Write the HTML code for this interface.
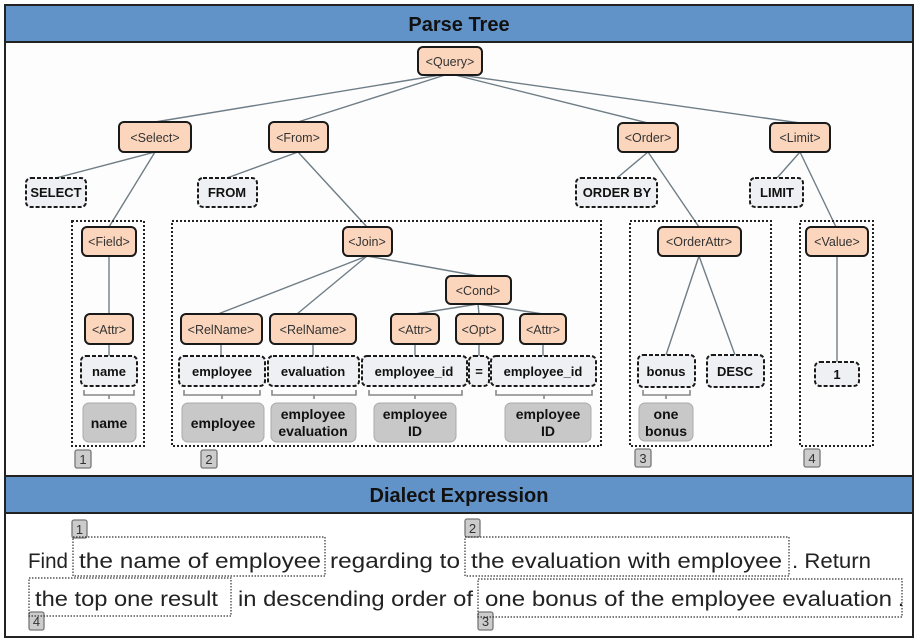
<!DOCTYPE html>
<html><head><meta charset="utf-8"><style>
html,body{margin:0;padding:0;background:#fff;}
svg{display:block;}
</style></head><body>
<svg width="918" height="643" viewBox="0 0 918 643" xmlns="http://www.w3.org/2000/svg" font-family="Liberation Sans, DejaVu Sans, sans-serif">
<rect x="0" y="0" width="918" height="643" fill="#fff"/>
<!-- headers -->
<rect x="5" y="5" width="908" height="37" fill="#6193c8" stroke="#222" stroke-width="2"/>
<text x="459" y="31" text-anchor="middle" font-size="20" font-weight="bold" fill="#111">Parse Tree</text>
<rect x="5" y="42" width="908" height="434" fill="#fdfdfd" stroke="#222" stroke-width="2"/>
<rect x="5" y="476" width="908" height="37" fill="#6193c8" stroke="#222" stroke-width="2"/>
<text x="459" y="502" text-anchor="middle" font-size="20" font-weight="bold" fill="#111">Dialect Expression</text>
<rect x="5" y="513" width="908" height="124" fill="#fff" stroke="#222" stroke-width="2"/>

<!-- edges -->
<g stroke="#6f7d86" stroke-width="1.4" fill="none">
<line x1="440" y1="75" x2="155" y2="122"/>
<line x1="445" y1="75" x2="298" y2="122"/>
<line x1="455" y1="75" x2="648" y2="123"/>
<line x1="460" y1="75" x2="800" y2="123"/>
<line x1="155" y1="152" x2="56" y2="178"/>
<line x1="155" y1="152" x2="109" y2="227"/>
<line x1="298" y1="152" x2="227" y2="178"/>
<line x1="298" y1="152" x2="367" y2="227"/>
<line x1="648" y1="152" x2="617" y2="178"/>
<line x1="648" y1="152" x2="699" y2="227"/>
<line x1="800" y1="152" x2="777" y2="178"/>
<line x1="800" y1="152" x2="836" y2="227"/>
<line x1="109" y1="256" x2="109" y2="314"/>
<line x1="109" y1="344" x2="109" y2="356"/>
<line x1="367" y1="256" x2="218" y2="314"/>
<line x1="367" y1="256" x2="297" y2="314"/>
<line x1="367" y1="256" x2="478" y2="276"/>
<line x1="478" y1="304" x2="415" y2="314"/>
<line x1="478" y1="304" x2="479" y2="314"/>
<line x1="478" y1="304" x2="543" y2="314"/>
<line x1="221" y1="344" x2="221" y2="356"/>
<line x1="313" y1="344" x2="313" y2="356"/>
<line x1="415" y1="344" x2="415" y2="356"/>
<line x1="479" y1="344" x2="479" y2="356"/>
<line x1="543" y1="344" x2="543" y2="356"/>
<line x1="699" y1="256" x2="666" y2="355"/>
<line x1="699" y1="256" x2="735" y2="355"/>
<line x1="837" y1="256" x2="837" y2="362"/>
</g>

<!-- dotted group boxes -->
<g fill="none" stroke="#222" stroke-width="2" stroke-dasharray="2,2">
<rect x="72" y="221" width="72" height="225"/>
<rect x="172" y="221" width="429" height="225"/>
<rect x="630" y="221" width="141" height="225"/>
<rect x="800" y="221" width="73" height="225"/>
</g>

<!-- orange nodes -->
<g fill="#fbd6bd" stroke="#1a1a1a" stroke-width="2">
<rect x="418" y="47" width="64" height="28" rx="5"/>
<rect x="119" y="122" width="72" height="30" rx="5"/>
<rect x="269" y="122" width="59" height="30" rx="5"/>
<rect x="618" y="123" width="60" height="29" rx="5"/>
<rect x="770" y="123" width="60" height="29" rx="5"/>
<rect x="82" y="227" width="54" height="29" rx="5"/>
<rect x="343" y="227" width="49" height="29" rx="5"/>
<rect x="658" y="227" width="83" height="29" rx="5"/>
<rect x="806" y="227" width="62" height="29" rx="5"/>
<rect x="446" y="276" width="65" height="28" rx="5"/>
<rect x="85" y="314" width="48" height="30" rx="5"/>
<rect x="181" y="314" width="81" height="30" rx="5"/>
<rect x="270" y="314" width="86" height="30" rx="5"/>
<rect x="391" y="314" width="48" height="30" rx="5"/>
<rect x="456" y="314" width="47" height="30" rx="5"/>
<rect x="520" y="314" width="46" height="30" rx="5"/>
</g>
<g font-size="12.5" fill="#333" text-anchor="middle">
<text x="450" y="66">&lt;Query&gt;</text>
<text x="155" y="142">&lt;Select&gt;</text>
<text x="298" y="142">&lt;From&gt;</text>
<text x="648" y="142">&lt;Order&gt;</text>
<text x="800" y="142">&lt;Limit&gt;</text>
<text x="109" y="246">&lt;Field&gt;</text>
<text x="367" y="246">&lt;Join&gt;</text>
<text x="699" y="246">&lt;OrderAttr&gt;</text>
<text x="837" y="246">&lt;Value&gt;</text>
<text x="478" y="295">&lt;Cond&gt;</text>
<text x="109" y="334">&lt;Attr&gt;</text>
<text x="221" y="334">&lt;RelName&gt;</text>
<text x="313" y="334">&lt;RelName&gt;</text>
<text x="415" y="334">&lt;Attr&gt;</text>
<text x="479" y="334">&lt;Opt&gt;</text>
<text x="543" y="334">&lt;Attr&gt;</text>
</g>

<!-- dashed terminals -->
<g fill="#eef0f3" stroke="#1a1a1a" stroke-width="2" stroke-dasharray="4,2">
<rect x="26" y="178" width="60" height="29" rx="5"/>
<rect x="198" y="178" width="59" height="29" rx="5"/>
<rect x="576" y="178" width="81" height="29" rx="5"/>
<rect x="750" y="178" width="53" height="29" rx="5"/>
<rect x="81" y="356" width="56" height="30" rx="5"/>
<rect x="179" y="356" width="86" height="30" rx="5"/>
<rect x="268" y="356" width="91" height="30" rx="5"/>
<rect x="362" y="356" width="105" height="30" rx="5"/>
<rect x="469" y="356" width="20" height="30" rx="5"/>
<rect x="491" y="356" width="105" height="30" rx="5"/>
<rect x="638" y="355" width="57" height="32" rx="5"/>
<rect x="707" y="355" width="57" height="32" rx="5"/>
<rect x="815" y="362" width="44" height="24" rx="5"/>
</g>
<g font-size="13" font-weight="bold" fill="#111" text-anchor="middle">
<text x="56" y="197">SELECT</text>
<text x="227" y="197">FROM</text>
<text x="617" y="197">ORDER BY</text>
<text x="777" y="197">LIMIT</text>
<text x="109" y="376">name</text>
<text x="222" y="376">employee</text>
<text x="313" y="376">evaluation</text>
<text x="414" y="376">employee_id</text>
<text x="479" y="376">=</text>
<text x="543" y="376">employee_id</text>
<text x="666" y="376">bonus</text>
<text x="735" y="376">DESC</text>
<text x="837" y="379">1</text>
</g>

<!-- brackets -->
<g stroke="#888" stroke-width="1.6" fill="none">
<path d="M84 390 V395 H134 V390 M109 395 V399"/>
<path d="M184 390 V395 H260 V390 M222 395 V399"/>
<path d="M272 390 V395 H356 V390 M314 395 V399"/>
<path d="M369 390 V395 H462 V390 M415 395 V399"/>
<path d="M496 390 V395 H592 V390 M544 395 V399"/>
<path d="M643 390 V395 H690 V390 M666 395 V399"/>
</g>

<!-- gray boxes -->
<g fill="#c8c8c8" stroke="#aaa" stroke-width="1">
<rect x="83" y="403" width="53" height="39" rx="6"/>
<rect x="182" y="403" width="82" height="39" rx="6"/>
<rect x="271" y="403" width="85" height="39" rx="6"/>
<rect x="374" y="403" width="82" height="39" rx="6"/>
<rect x="505" y="403" width="86" height="39" rx="6"/>
<rect x="639" y="403" width="54" height="38" rx="6"/>
</g>
<g font-size="14" font-weight="bold" fill="#111" text-anchor="middle">
<text x="109" y="428">name</text>
<text x="223" y="428">employee</text>
<text x="313" y="419">employee</text>
<text x="313" y="436">evaluation</text>
<text x="415" y="419">employee</text>
<text x="415" y="436">ID</text>
<text x="548" y="419">employee</text>
<text x="548" y="436">ID</text>
<text x="666" y="419">one</text>
<text x="666" y="436">bonus</text>
</g>

<!-- badges -->
<g fill="#ccc" stroke="#777" stroke-width="1.3">
<rect x="75" y="450" width="16" height="18" rx="2"/>
<rect x="201" y="450" width="16" height="18" rx="2"/>
<rect x="635" y="449" width="16" height="18" rx="2"/>
<rect x="804" y="449" width="16" height="18" rx="2"/>
<rect x="72" y="520" width="15" height="18" rx="2"/>
<rect x="465" y="519" width="15" height="18" rx="2"/>
<rect x="29" y="612" width="15" height="18" rx="2"/>
<rect x="478" y="612" width="15" height="18" rx="2"/>
</g>
<g font-size="13" fill="#333" text-anchor="middle">
<text x="83" y="464">1</text>
<text x="209" y="464">2</text>
<text x="643" y="463">3</text>
<text x="812" y="463">4</text>
<text x="79.5" y="534">1</text>
<text x="472.5" y="533">2</text>
<text x="36.5" y="626">4</text>
<text x="485.5" y="626">3</text>
</g>

<!-- dialect dotted boxes -->
<g fill="none" stroke="#333" stroke-width="1.2" stroke-dasharray="1.5,1.5">
<rect x="73" y="537" width="252" height="39"/>
<rect x="465" y="537" width="324" height="39"/>
<rect x="29" y="578" width="202" height="38"/>
<rect x="478" y="579" width="424" height="38"/>
</g>
<g font-size="21" fill="#222">
<text x="28" y="568" textLength="40" lengthAdjust="spacingAndGlyphs">Find</text>
<text x="79" y="568" textLength="242" lengthAdjust="spacingAndGlyphs">the name of employee</text>
<text x="330" y="568" textLength="130" lengthAdjust="spacingAndGlyphs">regarding to</text>
<text x="471" y="568" textLength="311" lengthAdjust="spacingAndGlyphs">the evaluation with employee</text>
<text x="792" y="568" textLength="79" lengthAdjust="spacingAndGlyphs">. Return</text>
<text x="35" y="606" textLength="183" lengthAdjust="spacingAndGlyphs">the top one result</text>
<text x="238" y="606" textLength="235" lengthAdjust="spacingAndGlyphs">in descending order of</text>
<text x="485" y="606" textLength="407" lengthAdjust="spacingAndGlyphs">one bonus of the employee evaluation</text>
<text x="898" y="606">.</text>
</g>
</svg>
</body></html>
